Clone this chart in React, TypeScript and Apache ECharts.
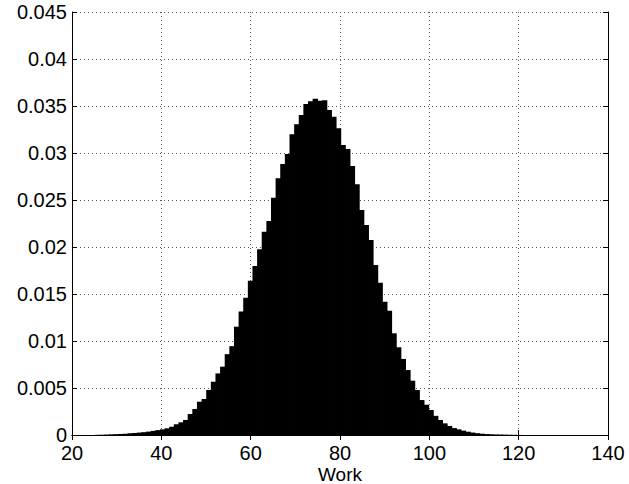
import React, { useEffect, useRef } from "react";
import * as echarts from "echarts";

// Histogram bins: 100 bins of equal width starting at binLo
const binLo = 20;
const binWidth = 1.036;
const binHeights = [
  0, 0, 0, 0, 0,
  0.00002, 0.00003, 0.00005, 0.00007, 0.00009,
  0.00011, 0.00014, 0.00018, 0.00021, 0.00026,
  0.0003, 0.00036, 0.00044, 0.00052, 0.0006,
  0.00071, 0.00088, 0.00114, 0.00135, 0.0016,
  0.00223, 0.00277, 0.00354, 0.00383, 0.00479,
  0.00567, 0.00655, 0.00727, 0.0086, 0.00945,
  0.01152, 0.01314, 0.01461, 0.01641, 0.01798,
  0.01975, 0.02163, 0.02277, 0.02524, 0.02731,
  0.02883, 0.02989, 0.03199, 0.03305, 0.03404,
  0.03521, 0.0355, 0.03578, 0.03556, 0.0356,
  0.03457, 0.03386, 0.03263, 0.03085, 0.03043,
  0.02862, 0.02667, 0.02394, 0.02234, 0.02074,
  0.01809, 0.0162, 0.01418, 0.01322, 0.01082,
  0.00933, 0.00809, 0.00691, 0.00578, 0.00479,
  0.00372, 0.00322, 0.00266, 0.00204, 0.0016,
  0.00124, 0.00096, 0.00074, 0.0006, 0.00046,
  0.00035, 0.00026, 0.00019, 0.00014, 0.0001,
  0.00008, 0.00006, 0.00005, 0.00004, 0.00003,
  0.00002, 0.00001, 0, 0, 0,
];

const xMin = 20;
const xMax = 140;
const xInterval = 20;
const yMin = 0;
const yMax = 0.045;
const yInterval = 0.005;
const xName = "Work";

const FONT = "'Liberation Sans', Arial, Helvetica, sans-serif";
const FS = 20;

export default function App() {
  const ref = useRef<HTMLDivElement>(null);
  useEffect(() => {
    document.body.style.margin = "0";
    if (!ref.current) return;
    const chart = echarts.init(ref.current, null, { renderer: "svg" });
    const data = binHeights.map((h, i) => [
      binLo + i * binWidth,
      binLo + (i + 1) * binWidth,
      h,
    ]);
    const gridLine = { show: true, lineStyle: { color: "#555", width: 1, type: [1, 3] as any } };
    const axisLine = { show: true, lineStyle: { color: "#000", width: 1 } };
    const tick = { show: true, inside: true, length: 5, lineStyle: { color: "#000" } };
    chart.setOption({
      animation: false,
      backgroundColor: "#fff",
      grid: {
        left: 72,
        right: 21,
        top: 12,
        bottom: 49,
        containLabel: false,
        outerBoundsMode: "none",
      },
      xAxis: [
        {
          type: "value",
          min: xMin,
          max: xMax,
          interval: xInterval,
          position: "bottom",
          name: xName,
          nameLocation: "middle",
          nameGap: 30,
          nameMoveOverlap: false,
          nameTextStyle: {
            color: "#000",
            fontSize: 19,
            lineHeight: 19,
            fontFamily: FONT,
          },
          axisLine,
          axisTick: tick,
          axisLabel: { color: "#000", fontSize: FS, fontFamily: FONT, margin: 8 },
          splitLine: gridLine,
        },
        {
          type: "value",
          min: xMin,
          max: xMax,
          interval: xInterval,
          position: "top",
          axisLine,
          axisTick: tick,
          axisLabel: { show: false },
          splitLine: { show: false },
        },
      ],
      yAxis: [
        {
          type: "value",
          min: yMin,
          max: yMax,
          interval: yInterval,
          position: "left",
          axisLine,
          axisTick: tick,
          axisLabel: {
            color: "#000",
            fontSize: FS,
            fontFamily: FONT,
            margin: 5,
            formatter: (v: number) => String(+v.toFixed(3)),
          },
          splitLine: gridLine,
        },
        {
          type: "value",
          min: yMin,
          max: yMax,
          interval: yInterval,
          position: "right",
          axisLine,
          axisTick: tick,
          axisLabel: { show: false },
          splitLine: { show: false },
        },
      ],
      series: [
        {
          type: "custom",
          xAxisIndex: 0,
          yAxisIndex: 0,
          data,
          encode: { x: [0, 1], y: 2 },
          renderItem: (params: any, api: any) => {
            const lo = api.value(0);
            const hi = api.value(1);
            const h = api.value(2);
            if (!h) return null;
            const p0 = api.coord([lo, h]);
            const p1 = api.coord([hi, 0]);
            return {
              type: "rect",
              shape: {
                x: p0[0],
                y: p0[1],
                width: p1[0] - p0[0] + 0.8,
                height: Math.max(p1[1] - p0[1], 0.6),
              },
              style: { fill: "#000" },
            };
          },
        },
      ],
    });
    return () => chart.dispose();
  }, []);
  return <div ref={ref} style={{ width: 629, height: 484 }} />;
}
